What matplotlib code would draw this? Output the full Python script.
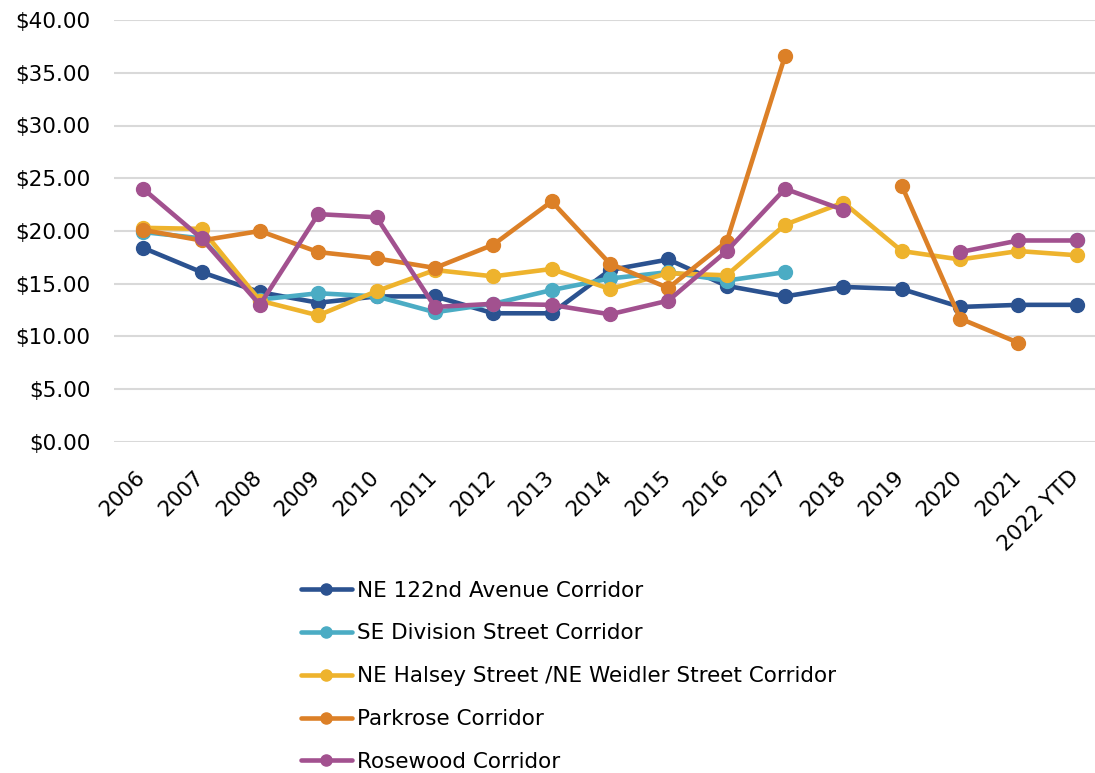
import numpy as np
import matplotlib
matplotlib.use("Agg")
import matplotlib.pyplot as plt
import matplotlib.transforms as mtransforms
from matplotlib.ticker import FuncFormatter

plt.rcParams['font.family'] = ['DejaVu Sans']

years = ["2006", "2007", "2008", "2009", "2010", "2011", "2012", "2013", "2014",
         "2015", "2016", "2017", "2018", "2019", "2020", "2021", "2022 YTD"]

ne_122nd = [18.4, 16.1, 14.2, 13.2, 13.8, 13.8, 12.2, 12.2, 16.3,
            17.3, 14.8, 13.8, 14.7, 14.5, 12.8, 13.0, 13.0]
se_division = [19.9, 19.3, 13.5, 14.1, 13.8, 12.3, 13.1, 14.4, 15.5,
               16.1, 15.3, 16.1, None, None, None, None, 19.1]
halsey = [20.3, 20.2, 13.4, 12.0, 14.3, 16.3, 15.7, 16.4, 14.5,
          16.0, 15.8, 20.6, 22.7, 18.1, 17.3, 18.1, 17.7]
parkrose = [20.1, 19.1, 20.0, 18.0, 17.4, 16.5, 18.7, 22.8, 16.9,
            14.6, 19.0, 36.6, None, 24.3, 11.7, 9.4, None]
rosewood = [24.0, 19.3, 13.0, 21.6, 21.3, 12.8, 13.1, 13.0, 12.1,
            13.4, 18.1, 24.0, 22.0, None, 18.0, 19.1, 19.1]

series = [
    ("NE 122nd Avenue Corridor", ne_122nd, "#2B5290"),
    ("SE Division Street Corridor", se_division, "#4BACC4"),
    ("NE Halsey Street /NE Weidler Street Corridor", halsey, "#EEB32D"),
    ("Parkrose Corridor", parkrose, "#DC8027"),
    ("Rosewood Corridor", rosewood, "#A2518F"),
]

fig = plt.figure(figsize=(10.95, 7.73), dpi=100)
ax = fig.add_axes([114 / 1095, 1 - 442 / 773, (1106 - 114) / 1095, 422 / 773])

x = np.arange(len(years))
for name, vals, col in series:
    y = np.array([np.nan if v is None else v for v in vals])
    ax.plot(x, y, color=col, lw=3.3, marker='o', markersize=10, label=name,
            solid_capstyle='round', clip_on=False)

ax.set_xlim(-0.5, len(years) - 0.5)
ax.set_ylim(0, 40)
ax.set_yticks(np.arange(0, 41, 5))
ax.yaxis.set_major_formatter(FuncFormatter(lambda v, p: f"${v:.2f}"))
ax.set_xticks(x)
ax.set_xticklabels(years, rotation=45, ha='right', rotation_mode='anchor')
ax.tick_params(axis='both', length=0, labelsize=15.5)
ax.tick_params(axis='y', pad=17)
ax.tick_params(axis='x', pad=18)
shift = mtransforms.ScaledTranslation(-0.08, 0, fig.dpi_scale_trans)
for lbl in ax.get_xticklabels():
    lbl.set_transform(lbl.get_transform() + shift)
ax.grid(axis='y', color='#D9D9D9', lw=1.5)
ax.set_axisbelow(True)
for s in ax.spines.values():
    s.set_visible(False)

fig.legend(loc='upper left', bbox_to_anchor=(292 / 1095, 1 - 572 / 773),
           frameon=False, fontsize=15.5, handlelength=2.4, handletextpad=0.2,
           labelspacing=1.06, borderaxespad=0, markerscale=0.8)

fig.savefig("out.png", dpi=100)
